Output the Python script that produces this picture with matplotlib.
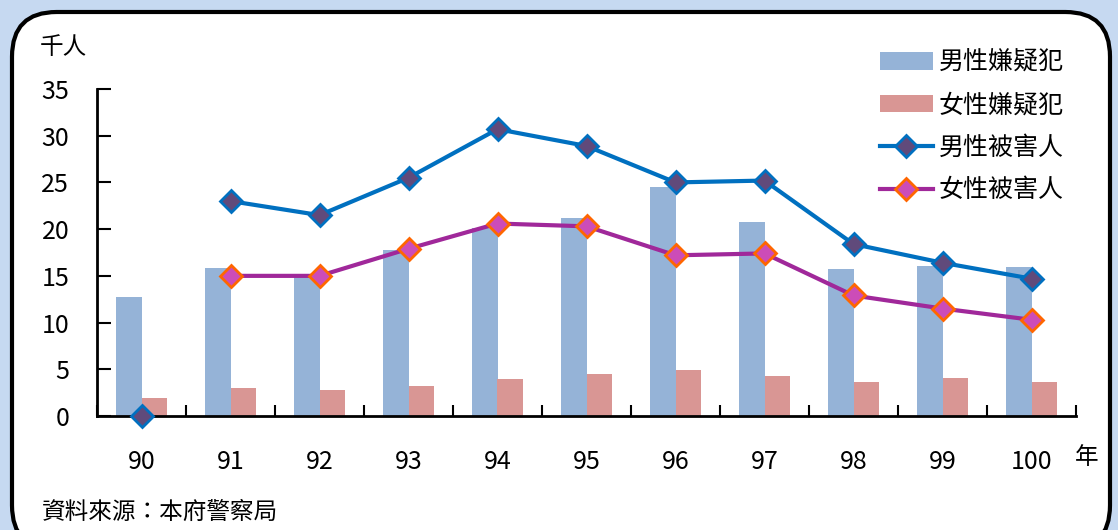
import matplotlib.pyplot as plt
from matplotlib.patches import FancyBboxPatch
import numpy as np

plt.rcParams['font.family'] = ['Noto Sans CJK TC', 'DejaVu Sans']

# data (thousand persons)
years = ['90', '91', '92', '93', '94', '95', '96', '97', '98', '99', '100']
male_suspects = [12.7, 15.8, 14.9, 17.8, 20.1, 21.2, 24.5, 20.8, 15.7, 16.1, 15.9]
female_suspects = [1.9, 3.0, 2.8, 3.2, 4.0, 4.5, 4.9, 4.3, 3.6, 4.1, 3.6]
male_victims = [0, 23.0, 21.5, 25.5, 30.7, 28.9, 25.0, 25.2, 18.4, 16.4, 14.7]
female_victims = [None, 15.0, 15.0, 17.9, 20.6, 20.3, 17.2, 17.4, 12.9, 11.5, 10.3]

fig = plt.figure(figsize=(11.18, 5.30), dpi=100)
fig.patch.set_facecolor('#C6D9F1')

# white rounded panel
panel = FancyBboxPatch((12 / 1118, -20 / 530), 1098 / 1118, 538 / 530,
                       boxstyle='round,pad=0,rounding_size=0.04',
                       transform=fig.transFigure, facecolor='white',
                       edgecolor='black', linewidth=3, zorder=-5,
                       mutation_aspect=1118 / 530)
fig.patches.append(panel)

ax = fig.add_axes([97 / 1118, 1 - 416 / 530, 979 / 1118, 327 / 530])
ax.set_facecolor('none')
ax.set_zorder(2)

x = np.arange(len(years))
w = 0.29
b1 = ax.bar(x - w / 2, male_suspects, w, color='#95B3D7', label='男性嫌疑犯', zorder=2)
b2 = ax.bar(x + w / 2, female_suspects, w, color='#D99694', label='女性嫌疑犯', zorder=2)

# year 90 victim value shown as lone marker, line starts at 91
l1, = ax.plot(x[1:], male_victims[1:], color='#0070C0', lw=3, marker='D', ms=11,
              mfc='#604A7B', mec='#0070C0', mew=2, label='男性被害人', zorder=4)
ax.plot(x[:1], male_victims[:1], ls='none', marker='D', ms=11,
        mfc='#604A7B', mec='#0070C0', mew=2, zorder=4, clip_on=False)
l2, = ax.plot(x[1:], female_victims[1:], color='#A0289A', lw=3, marker='D', ms=11,
              mfc='#CC4CB8', mec='#FF6600', mew=2, label='女性被害人', zorder=3)

ax.set_xlim(-0.5, 10.5)
ax.set_ylim(0, 35)
ax.set_yticks(range(0, 36, 5))
ax.tick_params(axis='y', direction='in', length=10, width=1.5, pad=20, labelsize=18)

ax.set_xticks(np.arange(-0.5, 11, 1))
ax.set_xticklabels([])
ax.tick_params(axis='x', which='major', direction='in', length=8, width=1.5)
ax.set_xticks(x, minor=True)
ax.set_xticklabels(years, minor=True)
ax.tick_params(axis='x', which='minor', length=0, pad=24, labelsize=18)

for s in ['top', 'right']:
    ax.spines[s].set_visible(False)
for s in ['left', 'bottom']:
    ax.spines[s].set_linewidth(2)

ax.legend(handles=[b1, b2, l1, l2], loc='upper left', bbox_to_anchor=(0.80, 1.12),
          frameon=False, fontsize=18, handlelength=2.1, handleheight=0.7,
          labelspacing=0.66, handletextpad=0.25, borderpad=0, borderaxespad=0)

fig.text(40 / 1118, 1 - 48 / 530, '千人', fontsize=17, va='center')
fig.text(1075 / 1118, 1 - 458 / 530, '年', fontsize=17, va='center')
fig.text(42 / 1118, 1 - 512 / 530, '資料來源：本府警察局', fontsize=17, va='center')

fig.savefig('out.png', dpi=100, facecolor=fig.get_facecolor())
